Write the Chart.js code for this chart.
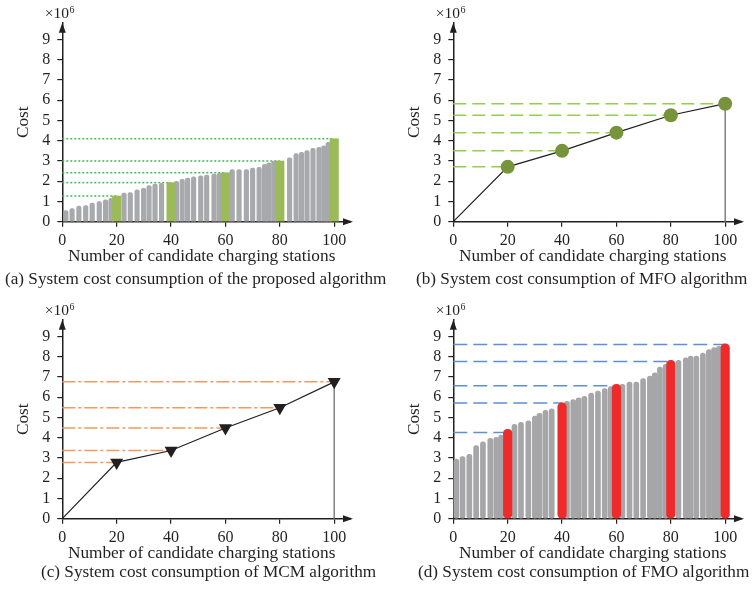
<!DOCTYPE html>
<html>
<head>
<meta charset="utf-8">
<script src="https://cdn.jsdelivr.net/npm/chart.js@4.4.0/dist/chart.umd.min.js"></script>
<style>
  body { margin: 0; background: #fff; }
  #wrap { position: relative; width: 752px; height: 594px; overflow: hidden; background: #fff;
          font-family: "Liberation Serif", "Times New Roman", serif; color: #231f20; }
  .panel { position: absolute; width: 361px; height: 297px; }
  .caption { position: absolute; font-size: 17.2px; line-height: 17px; white-space: nowrap; }
</style>
</head>
<body>
<div id="wrap">
  <div class="panel" style="left:0;top:0"><canvas id="chartA" width="361" height="297"></canvas></div>
  <div class="panel" style="left:391px;top:0"><canvas id="chartB" width="361" height="297"></canvas></div>
  <div class="panel" style="left:0;top:297px"><canvas id="chartC" width="361" height="297"></canvas></div>
  <div class="panel" style="left:391px;top:297px"><canvas id="chartD" width="361" height="297"></canvas></div>
  <div class="caption" style="left:5px;top:270px">(a) System cost consumption of the proposed algorithm</div>
  <div class="caption" style="left:416px;top:270px">(b) System cost consumption of MFO algorithm</div>
  <div class="caption" style="left:41px;top:563px">(c) System cost consumption of MCM algorithm</div>
  <div class="caption" style="left:418px;top:563px">(d) System cost consumption of FMO algorithm</div>
</div>
<script>
// axis ticks
const stationTicks = [0, 20, 40, 60, 80, 100];
const costTicks = [0, 1, 2, 3, 4, 5, 6, 7, 8, 9];

// stations where the highlighted result is reported
const keyStations = [20, 40, 60, 80, 100];

// (a) proposed algorithm, cost in 10^6
const proposedX = [1.3, 3.6, 6.1, 8.6, 11, 13.6, 15.9, 17.9, 22.7, 25, 27.5, 29.9, 31.9, 34.1, 36.5,
  42, 44.1, 46.1, 48.3, 50.9, 53.1, 55.8, 57.7, 62.5, 65, 67.7, 70, 72.4, 74.4, 76, 77.8,
  83.6, 86, 88, 90, 92.2, 94.4, 96.2, 97.8];
const proposedCost = [0.55, 0.65, 0.77, 0.8, 0.92, 1.0, 1.08, 1.15, 1.41, 1.44, 1.57, 1.65, 1.79, 1.86, 1.9,
  2.0, 2.09, 2.16, 2.22, 2.27, 2.3, 2.35, 2.39, 2.57, 2.57, 2.57, 2.65, 2.69, 2.83, 2.91, 3.0,
  3.16, 3.36, 3.43, 3.51, 3.62, 3.67, 3.75, 3.92];
const proposedKeyCost = [1.27, 1.93, 2.42, 3.0, 4.1];

// (b) MFO algorithm
const mfoX = [0, 20, 40, 60, 80, 100];
const mfoCost = [0, 2.71, 3.5, 4.4, 5.26, 5.83];

// (c) MCM algorithm
const mcmX = [0, 20, 40, 60, 80, 100];
const mcmCost = [0, 2.78, 3.37, 4.48, 5.48, 6.76];

// (d) FMO algorithm
const fmoX = [1.1, 3.4, 5.9, 8.4, 10.9, 13.6, 15.8, 17.6, 22.5, 24.9, 27.6, 30, 31.7, 33.9, 36.2,
  41.8, 44.1, 46.1, 48.2, 50.7, 53.2, 55.7, 57.9, 62.2, 64.8, 67.3, 69.8, 72.3, 74.1, 76, 78.1,
  82.8, 85.5, 87.3, 89.4, 91.8, 94, 95.9, 97.7];
const fmoCost = [2.94, 3.07, 3.18, 3.61, 3.8, 3.97, 4.02, 4.13, 4.66, 4.76, 4.84, 5.07, 5.2, 5.35, 5.43,
  5.8, 5.89, 5.97, 6.05, 6.21, 6.3, 6.43, 6.53, 6.64, 6.75, 6.75, 6.92, 7.05, 7.21, 7.49, 7.62,
  7.82, 7.95, 8.03, 8.03, 8.18, 8.35, 8.45, 8.52];
const fmoKeyCost = [4.41, 5.72, 6.64, 7.82, 8.64];
const fmoGuide = [4.26, 5.72, 6.57, 7.77, 8.61];

const FONT = "'Liberation Serif', 'Times New Roman', serif";
const INK = '#231f20';

// arrow heads on both axes plus the x10^6 mark
const axisArrows = {
  id: 'axisArrows',
  afterDraw(chart) {
    const { ctx } = chart;
    const { left, right, top, bottom } = chart.chartArea;
    ctx.save();
    ctx.fillStyle = INK;
    ctx.strokeStyle = INK;
    ctx.lineWidth = 1.5;
    ctx.beginPath();
    ctx.moveTo(right, bottom);
    ctx.lineTo(right + 10, bottom);
    ctx.stroke();
    ctx.beginPath();
    ctx.moveTo(right + 12, bottom);
    ctx.lineTo(right + 2, bottom - 3.5);
    ctx.lineTo(right + 2, bottom + 3.5);
    ctx.closePath();
    ctx.fill();
    ctx.beginPath();
    ctx.moveTo(left, top);
    ctx.lineTo(left - 3.5, top + 10);
    ctx.lineTo(left + 3.5, top + 10);
    ctx.closePath();
    ctx.fill();

    ctx.textAlign = 'left';
    ctx.textBaseline = 'alphabetic';
    ctx.font = '15.5px ' + FONT;
    const x0 = left - 17.5, y0 = top - 4.5;
    ctx.fillText('×10', x0, y0);
    const w = ctx.measureText('×10').width;
    ctx.font = '10px ' + FONT;
    ctx.fillText('6', x0 + w + 0.5, y0 - 5.5);
    ctx.restore();
  }
};

function makeOptions() {
  return {
    responsive: false,
    animation: false,
    layout: { padding: { left: 0, top: 22.7, right: 20, bottom: 0 } },
    plugins: { legend: { display: false }, tooltip: { enabled: false } },
    scales: {
      x: {
        type: 'linear',
        min: 0,
        max: 102.5,
        offset: false,
        afterFit: (s) => { s.height = 75.3; },
        afterBuildTicks: (s) => { s.ticks = stationTicks.map((v) => ({ value: v })); },
        ticks: { color: INK, font: { family: FONT, size: 16 }, padding: 4, maxRotation: 0, autoSkip: false },
        grid: { offset: false, drawOnChartArea: false, tickLength: 5, color: INK, lineWidth: 1.2 },
        border: { color: INK, width: 1.5 },
        title: {
          display: true,
          text: 'Number of candidate charging stations',
          color: INK,
          font: { family: FONT, size: 17.3 },
          padding: { top: 0, bottom: 30 },
        },
      },
      y: {
        type: 'linear',
        min: 0,
        max: 9.83,
        afterFit: (s) => { s.width = 62.3; },
        afterBuildTicks: (s) => { s.ticks = costTicks.map((v) => ({ value: v })); },
        ticks: { color: INK, font: { family: FONT, size: 16 }, padding: 7, autoSkip: false },
        grid: { drawOnChartArea: false, tickLength: 5, color: INK, lineWidth: 1.2 },
        border: { color: INK, width: 1.5 },
        title: {
          display: true,
          text: 'Cost',
          color: INK,
          font: { family: FONT, size: 17.3 },
          padding: { top: 13.5, bottom: 0 },
        },
      },
    },
  };
}

// horizontal guide from the y axis to each highlighted station
function guides(values, color, dash) {
  return keyStations.map((x, i) => ({
    type: 'line',
    data: [{ x: 0, y: values[i] }, { x: x, y: values[i] }],
    borderColor: color,
    borderWidth: 1.5,
    borderDash: dash,
    pointRadius: 0,
    showLine: true,
    clip: false,
    order: 3,
  }));
}

// (a)
new Chart(document.getElementById('chartA'), {
  type: 'bar',
  data: {
    datasets: [
      {
        data: keyStations.map((x, i) => ({ x: x, y: proposedKeyCost[i] })),
        backgroundColor: '#9bbb59',
        barThickness: 8.5,
        grouped: false,
        clip: false,
        order: 0,
      },
      {
        data: proposedX.map((x, i) => ({ x: x, y: proposedCost[i] })),
        backgroundColor: '#a7a9ac',
        barThickness: 4.5,
        borderRadius: 2,
        grouped: false,
        clip: false,
        order: 1,
      },
      ...guides(proposedKeyCost, '#3cba54', [2, 2]),
    ],
  },
  options: makeOptions(),
  plugins: [axisArrows],
});

// line panels (b) and (c)
function linePanel(id, xs, ys, marker, guideColor, dash) {
  const pts = xs.map((x, i) => ({ x: x, y: ys[i] }));
  const last = pts[pts.length - 1];
  new Chart(document.getElementById(id), {
    type: 'scatter',
    data: {
      datasets: [
        Object.assign({
          data: pts.slice(1),
          showLine: false,
          borderWidth: 0,
          clip: false,
          order: 0,
        }, marker),
        {
          data: pts,
          showLine: true,
          borderColor: INK,
          borderWidth: 1.2,
          pointRadius: 0,
          clip: false,
          order: 1,
        },
        {
          data: [last, { x: last.x, y: 0 }],
          showLine: true,
          borderColor: '#808080',
          borderWidth: 1.5,
          pointRadius: 0,
          clip: false,
          order: 2,
        },
        ...guides(ys.slice(1), guideColor, dash),
      ],
    },
    options: makeOptions(),
    plugins: [axisArrows],
  });
}

linePanel('chartB', mfoX, mfoCost,
  { pointRadius: 7, pointBackgroundColor: '#77933c', pointBorderWidth: 0, pointStyle: 'circle' },
  '#92d050', [13, 6]);

linePanel('chartC', mcmX, mcmCost,
  { pointRadius: 7.5, pointBackgroundColor: INK, pointBorderWidth: 0, pointStyle: 'triangle', pointRotation: 180 },
  '#f19a5f', [13, 3, 3, 3]);

// (d)
new Chart(document.getElementById('chartD'), {
  type: 'bar',
  data: {
    datasets: [
      {
        data: keyStations.map((x, i) => ({ x: x, y: fmoKeyCost[i] })),
        backgroundColor: '#ee2a2a',
        barThickness: 8.5,
        borderRadius: 5,
        borderSkipped: false,
        grouped: false,
        clip: false,
        order: 0,
      },
      {
        data: fmoX.map((x, i) => ({ x: x, y: fmoCost[i] })),
        backgroundColor: '#a6a6a8',
        barThickness: 5,
        borderRadius: 3,
        borderSkipped: false,
        grouped: false,
        clip: false,
        order: 1,
      },
      ...guides(fmoGuide, '#5b8fd9', [14, 6]),
    ],
  },
  options: makeOptions(),
  plugins: [axisArrows],
});
</script>
</body>
</html>
